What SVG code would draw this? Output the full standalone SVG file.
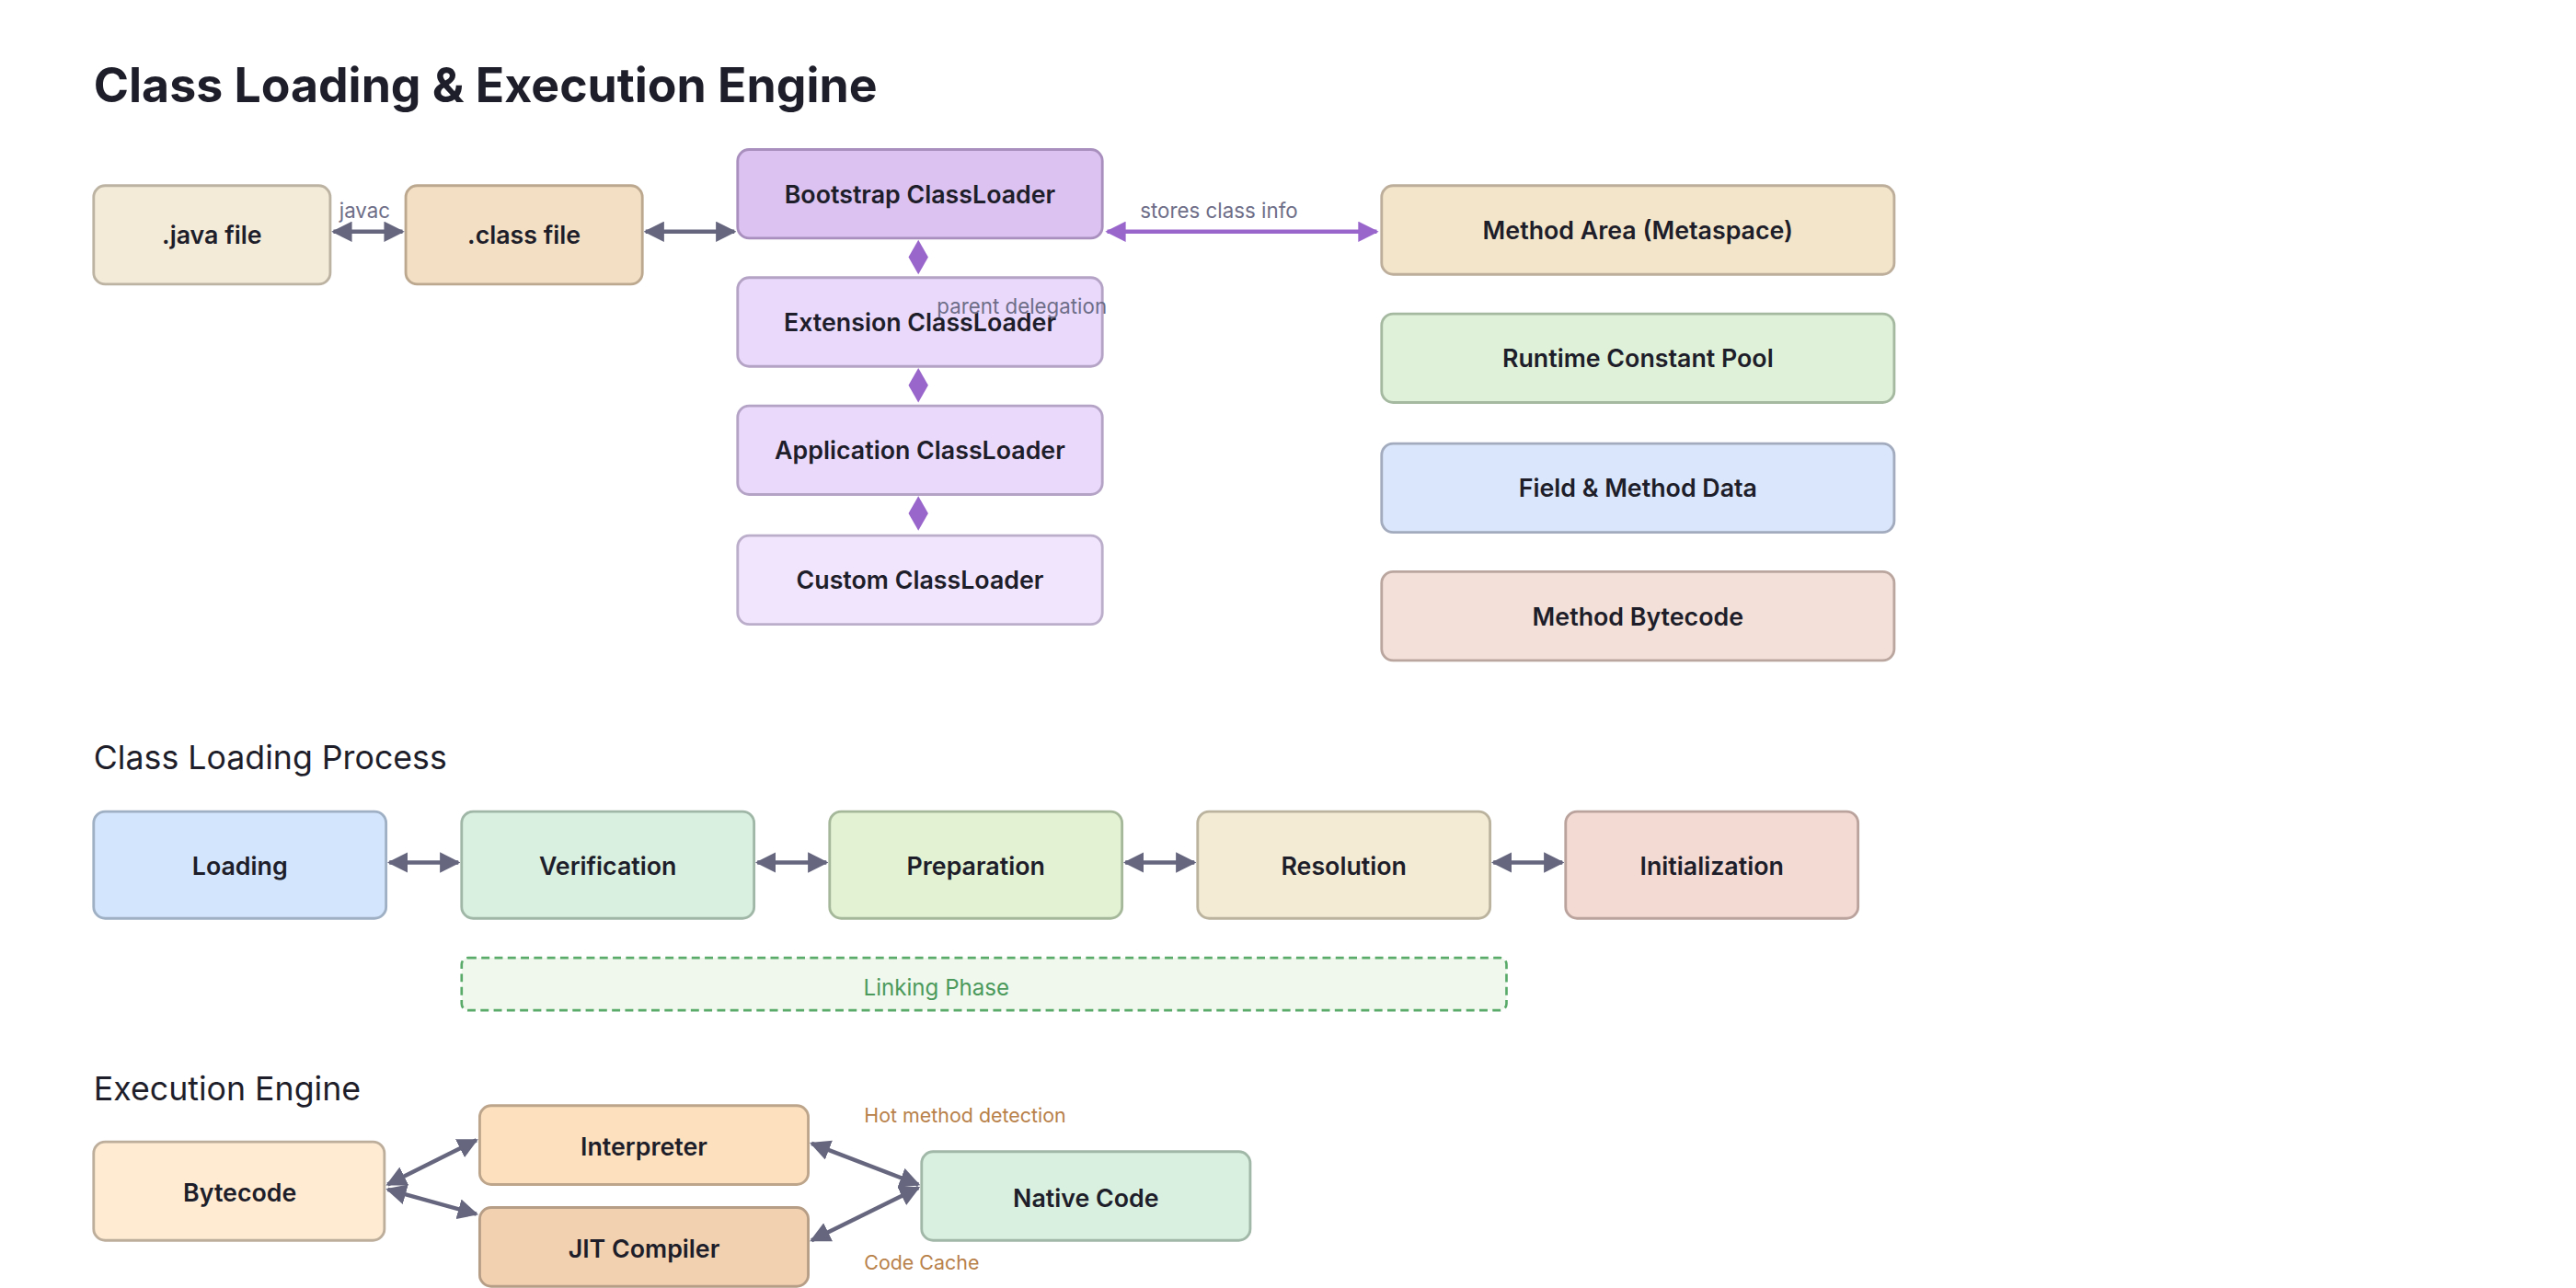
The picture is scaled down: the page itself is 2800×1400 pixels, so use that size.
<svg xmlns="http://www.w3.org/2000/svg" width="2800" height="1400" viewBox="0 0 2800 1400">
<defs>
<marker id="ag" viewBox="0 0 10 10" refX="9" refY="5" markerWidth="5" markerHeight="5" orient="auto-start-reverse" markerUnits="strokeWidth"><path d="M0,0L10,5L0,10z" fill="#66667f"/></marker>
<marker id="ap" viewBox="0 0 10 10" refX="9" refY="5" markerWidth="5" markerHeight="5" orient="auto-start-reverse" markerUnits="strokeWidth"><path d="M0,0L10,5L0,10z" fill="#9966cc"/></marker>
</defs>
<style>
text{font-family:Inter,"Noto Sans",sans-serif}
.n{stroke-width:1.6}
.l{font-size:15px;font-weight:600;fill:#1e1e2a;text-anchor:middle;dominant-baseline:central}
.c{stroke:#66667f;stroke-width:2.5;fill:none;marker-start:url(#ag);marker-end:url(#ag)}
.cl{font-size:12.5px;fill:#6e6e88}
.h{font-size:20px;fill:#1e1e2a}
.o{font-size:12px;fill:#b8814a}
</style>
<rect width="2800" height="1400" fill="#fff"/>
<g transform="scale(1.7857)">
<text x="57" y="62" style="font-size:29px;font-weight:700;fill:#1e1e2a">Class Loading &amp; Execution Engine</text>
<g id="java"><rect class="n" x="57" y="113" width="144" height="60" rx="7" fill="#f3ead8" stroke="#bdb3a3"/><text class="l" x="129" y="143">.java file</text></g>
<g id="classfile"><rect class="n" x="247" y="113" width="144" height="60" rx="7" fill="#f3e0c4" stroke="#bba88f"/><text class="l" x="319" y="143">.class file</text></g>
<g id="bootstrap"><rect class="n" x="449" y="91" width="222" height="54" rx="7" fill="#dbc2f0" stroke="#a88fbd"/><text class="l" x="560" y="118">Bootstrap ClassLoader</text></g>
<g id="extension"><rect class="n" x="449" y="169" width="222" height="54" rx="7" fill="#ebd9fc" stroke="#b5a3c6"/><text class="l" x="560" y="196">Extension ClassLoader</text></g>
<g id="application"><rect class="n" x="449" y="247" width="222" height="54" rx="7" fill="#ebd9fc" stroke="#b5a3c6"/><text class="l" x="560" y="274">Application ClassLoader</text></g>
<g id="custom"><rect class="n" x="449" y="326" width="222" height="54" rx="7" fill="#f1e4fd" stroke="#bbaecb"/><text class="l" x="560" y="353">Custom ClassLoader</text></g>
<g id="metaspace"><rect class="n" x="841" y="113" width="312" height="54" rx="7" fill="#f3e5c9" stroke="#bcae9a"/><text class="l" x="997" y="140">Method Area (Metaspace)</text></g>
<g id="pool"><rect class="n" x="841" y="191" width="312" height="54" rx="7" fill="#e0f1d9" stroke="#a5b9a1"/><text class="l" x="997" y="218">Runtime Constant Pool</text></g>
<g id="field"><rect class="n" x="841" y="270" width="312" height="54" rx="7" fill="#dae6fb" stroke="#a2acbe"/><text class="l" x="997" y="297">Field &amp; Method Data</text></g>
<g id="bytecodeM"><rect class="n" x="841" y="348" width="312" height="54" rx="7" fill="#f3e0d8" stroke="#bba69f"/><text class="l" x="997" y="375">Method Bytecode</text></g>
<text class="h" x="57" y="468">Class Loading Process</text>
<g id="loading"><rect class="n" x="57" y="494" width="178" height="65" rx="7" fill="#d3e5fc" stroke="#9fb0c4"/><text class="l" x="146" y="527">Loading</text></g>
<g id="verification"><rect class="n" x="281" y="494" width="178" height="65" rx="7" fill="#d9f0e1" stroke="#a0b7a7"/><text class="l" x="370" y="527">Verification</text></g>
<g id="preparation"><rect class="n" x="505" y="494" width="178" height="65" rx="7" fill="#e2f2d3" stroke="#a6b89a"/><text class="l" x="594" y="527">Preparation</text></g>
<g id="resolution"><rect class="n" x="729" y="494" width="178" height="65" rx="7" fill="#f3ebd4" stroke="#bbb39e"/><text class="l" x="818" y="527">Resolution</text></g>
<g id="initialization"><rect class="n" x="953" y="494" width="178" height="65" rx="7" fill="#f3dad3" stroke="#bba39d"/><text class="l" x="1042" y="527">Initialization</text></g>
<g id="linking"><rect x="281" y="583" width="636" height="32" rx="4" fill="#f0f8ee" stroke="#5aaa6a" stroke-width="1.5" stroke-dasharray="5,3"/><text x="570" y="601" style="font-size:13.5px;fill:#4c9a5c;text-anchor:middle;dominant-baseline:central">Linking Phase</text></g>
<text class="h" x="57" y="670">Execution Engine</text>
<g id="bytecode"><rect class="n" x="57" y="695" width="177" height="60" rx="7" fill="#feebd1" stroke="#bdae9c"/><text class="l" x="146" y="726">Bytecode</text></g>
<g id="interpreter"><rect class="n" x="292" y="673" width="200" height="48" rx="7" fill="#fde0bd" stroke="#bca58b"/><text class="l" x="392" y="698">Interpreter</text></g>
<g id="jit"><rect class="n" x="292" y="735" width="200" height="48" rx="7" fill="#f2d1b0" stroke="#b69d86"/><text class="l" x="392" y="760">JIT Compiler</text></g>
<g id="native"><rect class="n" x="561" y="701" width="200" height="54" rx="7" fill="#d9f0e0" stroke="#a1b7a7"/><text class="l" x="661" y="729">Native Code</text></g>
<g id="connectors">
<line class="c" x1="203" y1="141" x2="245" y2="141"/>
<text class="cl" x="222" y="133" text-anchor="middle">javac</text>
<line class="c" x1="393" y1="141" x2="447" y2="141"/>
<line x1="674" y1="141" x2="838" y2="141" stroke="#9966cc" stroke-width="2.5" marker-start="url(#ap)" marker-end="url(#ap)"/>
<text class="cl" x="742" y="133" text-anchor="middle">stores class info</text>
<polygon points="559,146 565,156.5 559,167 553,156.5" fill="#9966cc"/>
<polygon points="559,224 565,234.5 559,245 553,234.5" fill="#9966cc"/>
<polygon points="559,302 565,312.5 559,323 553,312.5" fill="#9966cc"/>
<text class="cl" x="622" y="191" text-anchor="middle">parent delegation</text>
<line class="c" x1="237" y1="525" x2="279" y2="525"/>
<line class="c" x1="461" y1="525" x2="503" y2="525"/>
<line class="c" x1="685" y1="525" x2="727" y2="525"/>
<line class="c" x1="909" y1="525" x2="951" y2="525"/>
<line class="c" x1="236" y1="721" x2="290" y2="694"/>
<line class="c" x1="236" y1="724" x2="290" y2="739"/>
<line class="c" x1="494" y1="696" x2="559" y2="721"/>
<line class="c" x1="494" y1="755" x2="559" y2="723"/>
<text class="o" x="526" y="683">Hot method detection</text>
<text class="o" x="526" y="773">Code Cache</text>
</g>
</g>
</svg>
